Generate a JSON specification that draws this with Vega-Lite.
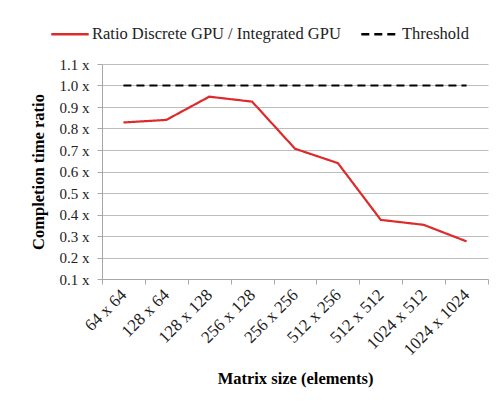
{
  "$schema": "https://vega.github.io/schema/vega-lite/v6.json",
  "autosize": "none",
  "width": 386,
  "height": 215,
  "padding": {"left": 102, "top": 64, "right": 9, "bottom": 124},
  "background": "white",
  "config": {
    "font": "Liberation Serif",
    "view": {"stroke": null},
    "legend": {"labelFont": "Liberation Serif"},
    "axis": {"labelFont": "Liberation Serif", "titleFont": "Liberation Serif"}
  },
  "data": {
    "values": [
      {"size": "64 x 64", "ratio": 0.828, "series": "Ratio Discrete GPU / Integrated GPU"},
      {"size": "128 x 64", "ratio": 0.840, "series": "Ratio Discrete GPU / Integrated GPU"},
      {"size": "128 x 128", "ratio": 0.948, "series": "Ratio Discrete GPU / Integrated GPU"},
      {"size": "256 x 128", "ratio": 0.925, "series": "Ratio Discrete GPU / Integrated GPU"},
      {"size": "256 x 256", "ratio": 0.706, "series": "Ratio Discrete GPU / Integrated GPU"},
      {"size": "512 x 256", "ratio": 0.639, "series": "Ratio Discrete GPU / Integrated GPU"},
      {"size": "512 x 512", "ratio": 0.375, "series": "Ratio Discrete GPU / Integrated GPU"},
      {"size": "1024 x 512", "ratio": 0.352, "series": "Ratio Discrete GPU / Integrated GPU"},
      {"size": "1024 x 1024", "ratio": 0.275, "series": "Ratio Discrete GPU / Integrated GPU"},
      {"size": "64 x 64", "ratio": 1.0, "series": "Threshold"},
      {"size": "128 x 64", "ratio": 1.0, "series": "Threshold"},
      {"size": "128 x 128", "ratio": 1.0, "series": "Threshold"},
      {"size": "256 x 128", "ratio": 1.0, "series": "Threshold"},
      {"size": "256 x 256", "ratio": 1.0, "series": "Threshold"},
      {"size": "512 x 256", "ratio": 1.0, "series": "Threshold"},
      {"size": "512 x 512", "ratio": 1.0, "series": "Threshold"},
      {"size": "1024 x 512", "ratio": 1.0, "series": "Threshold"},
      {"size": "1024 x 1024", "ratio": 1.0, "series": "Threshold"}
    ]
  },
  "mark": {"type": "line", "strokeWidth": 2.2},
  "encoding": {
    "x": {
      "field": "size",
      "type": "ordinal",
      "sort": null,
      "scale": {"type": "band", "paddingInner": 0, "paddingOuter": 0},
      "axis": {
        "title": "Matrix size (elements)",
        "titleFontSize": 16.5,
        "titleFontWeight": "bold",
        "titleColor": "#000",
        "titlePadding": 13,
        "labelAngle": -45,
        "labelAlign": "right",
        "labelBaseline": "middle",
        "labelFontSize": 17,
        "labelColor": "#222",
        "labelPadding": 8,
        "tickBand": "extent",
        "tickColor": "#a8a8a8",
        "tickSize": 5,
        "domainColor": "#a8a8a8",
        "grid": false
      }
    },
    "y": {
      "field": "ratio",
      "type": "quantitative",
      "scale": {"domain": [0.1, 1.1], "nice": false, "zero": false},
      "axis": {
        "title": "Completion time ratio",
        "titleFontSize": 16.5,
        "titleFontWeight": "bold",
        "titleColor": "#000",
        "titlePadding": 13,
        "values": [0.1, 0.2, 0.3, 0.4, 0.5, 0.6, 0.7, 0.8, 0.9, 1.0, 1.1],
        "labelExpr": "format(datum.value, '.1f') + ' x'",
        "labelFontSize": 15,
        "labelColor": "#222",
        "labelPadding": 8,
        "tickColor": "#a8a8a8",
        "tickSize": 5,
        "domainColor": "#a8a8a8",
        "grid": true,
        "gridColor": "#bdbdbd",
        "gridWidth": 1
      }
    },
    "color": {
      "field": "series",
      "type": "nominal",
      "scale": {"domain": ["Ratio Discrete GPU / Integrated GPU", "Threshold"], "range": ["#dd2a2a", "#000000"]},
      "legend": {
        "title": null,
        "orient": "none",
        "direction": "horizontal",
        "legendX": -52,
        "legendY": -50,
        "symbolType": "stroke",
        "symbolSize": 1400,
        "symbolStrokeWidth": 2.5,
        "labelFontSize": 16.5,
        "labelColor": "#222",
        "labelOffset": 2,
        "labelLimit": 400,
        "columnPadding": 15
      }
    },
    "strokeDash": {
      "field": "series",
      "type": "nominal",
      "scale": {"domain": ["Ratio Discrete GPU / Integrated GPU", "Threshold"], "range": [[1, 0], [8, 5]]},
      "legend": {
        "title": null,
        "orient": "none",
        "direction": "horizontal",
        "legendX": -52,
        "legendY": -50,
        "symbolType": "stroke",
        "symbolSize": 1400,
        "symbolStrokeWidth": 2.5,
        "labelFontSize": 16.5,
        "labelColor": "#222",
        "labelOffset": 2,
        "labelLimit": 400,
        "columnPadding": 15
      }
    }
  }
}
